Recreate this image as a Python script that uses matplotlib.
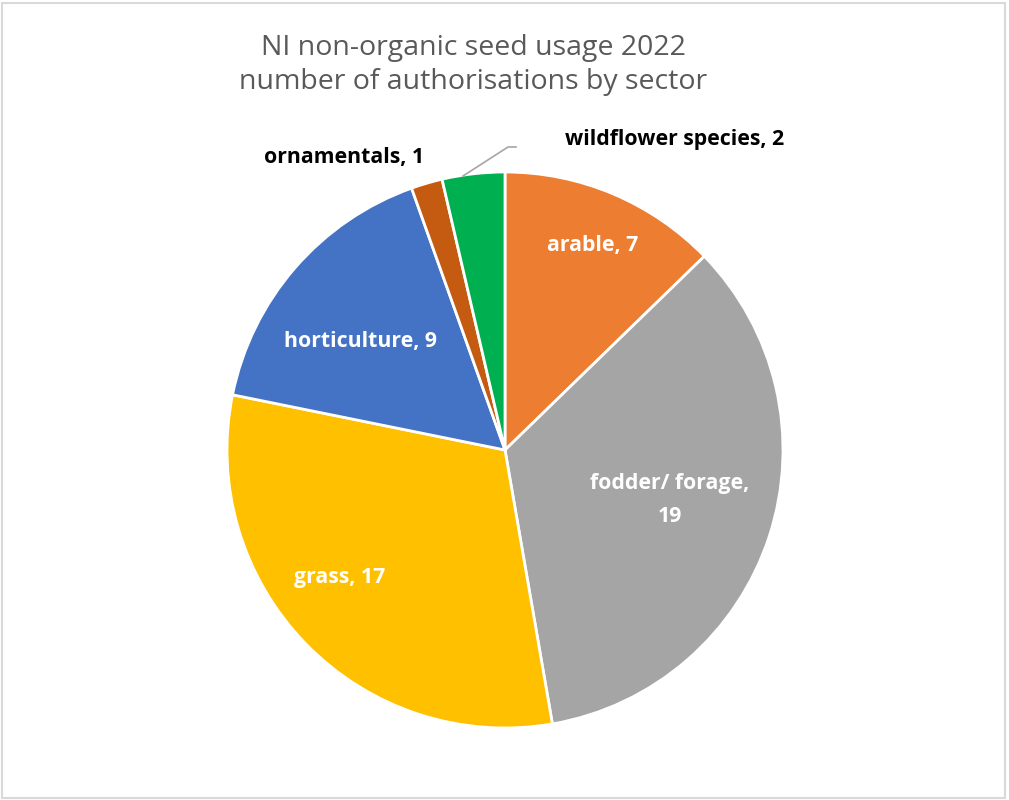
import matplotlib.pyplot as plt
from matplotlib.patches import Rectangle
import numpy as np

sectors = ['arable', 'fodder/ forage', 'grass', 'horticulture', 'ornamentals', 'wildflower species']
counts = [7, 19, 17, 9, 1, 2]
colors = ['#ed7d31', '#a5a5a5', '#ffc000', '#4472c4', '#c55a11', '#00b050']
title_lines = ['NI non-organic seed usage 2022', 'number of authorisations by sector']

# label text layout (pixel coords, y from top) and colours
label_text = ['arable, 7', 'fodder/ forage,', 'grass, 17', 'horticulture, 9',
              'ornamentals, 1', 'wildflower species, 2']
label_pos = [(593, 245), (670, 484), (340, 578), (360, 342), (344, 158), (675, 139)]
label_col = ['white', 'white', 'white', 'white', 'black', 'black']

W, H = 1009, 800
fig = plt.figure(figsize=(W / 100, H / 100), dpi=100)
ax = fig.add_axes([0, 0, 1, 1])

cx, cy, r = 505, 450, 278
ax.pie(counts, colors=colors, startangle=90, counterclock=False,
       center=(cx, H - cy), radius=r,
       wedgeprops=dict(edgecolor='white', linewidth=2))
ax.set_xlim(0, W)
ax.set_ylim(0, H)
ax.set_aspect('auto')
ax.axis('off')

fam = ['Open Sans', 'DejaVu Sans']
for txt, (x, y), c in zip(label_text, label_pos, label_col):
    ax.text(x, H - y, txt, color=c, fontsize=15.3, fontweight='bold',
            ha='center', va='center', family=fam)
# second line of the fodder label
ax.text(670, H - 516, str(counts[1]), color='white', fontsize=15.3,
        fontweight='bold', ha='center', va='center', family=fam)

# leader line for the wildflower slice
ax.plot([463, 508, 516], [H - 176, H - 147, H - 147], color='#a6a6a6', lw=1.2)

for line, y in zip(title_lines, [48, 82]):
    ax.text(473, H - y, line, ha='center', va='center', fontsize=20.5,
            color='#595959', family=fam)

fig.patches.append(Rectangle((0.002, 0.002), 0.994, 0.994, transform=fig.transFigure,
                             fill=False, edgecolor='#d9d9d9', lw=1.5))

fig.savefig('out.png', dpi=100)
